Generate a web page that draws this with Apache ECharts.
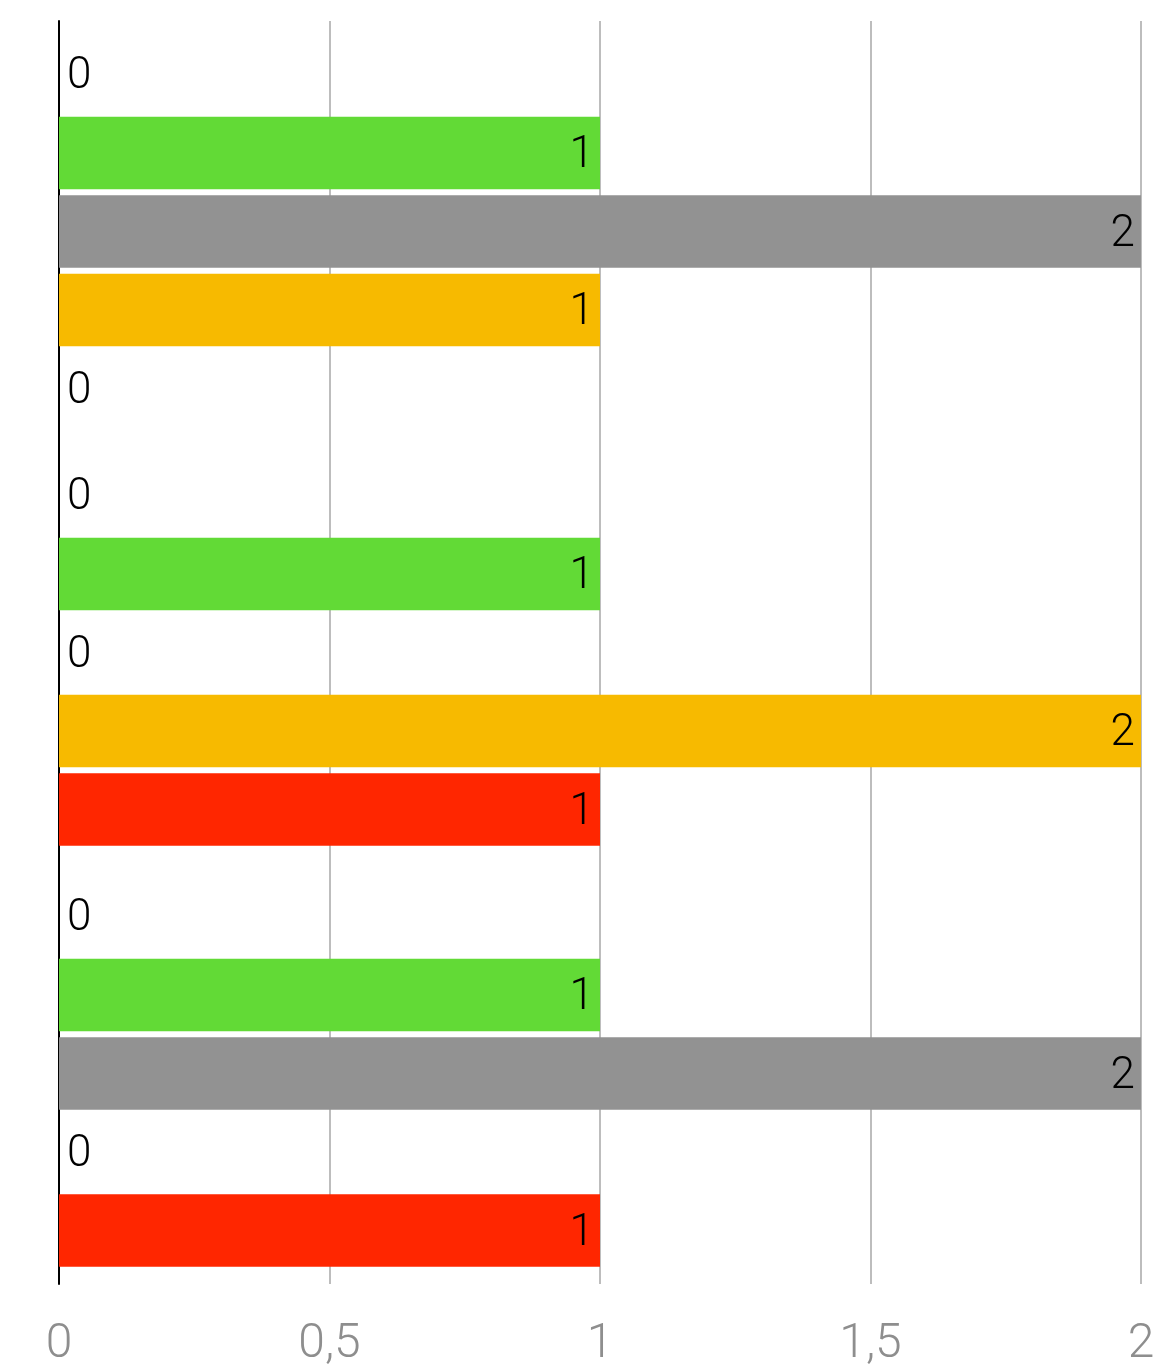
<!DOCTYPE html>
<html>
<head>
<meta charset="utf-8">
<script src="https://cdn.jsdelivr.net/npm/echarts@6/dist/echarts.min.js"></script>
<style>html,body{margin:0;padding:0;background:#fff}#c{width:1164px;height:1369px}</style>
</head>
<body>
<div id="c"></div>
<script>
const categories = ['Group 1', 'Group 2', 'Group 3'];
const seriesNames = ['Series 1', 'Series 2', 'Series 3', 'Series 4', 'Series 5'];
const seriesColors = ['#0076BA', '#62DA36', '#929292', '#F7BA00', '#FF2600'];
const series1 = [0, 0, 0];
const series2 = [1, 1, 1];
const series3 = [2, 0, 2];
const series4 = [1, 2, 0];
const series5 = [0, 1, 1];
const xTicks = { min: 0, max: 2, interval: 0.5 };

const allValues = [series1, series2, series3, series4, series5];
const FONT = 'Roboto';

const chart = echarts.init(document.getElementById('c'), null, { renderer: 'canvas' });
chart.setOption({
  animation: false,
  backgroundColor: '#ffffff',
  grid: { left: 59, right: 23, top: 21, bottom: 85, containLabel: false },
  xAxis: {
    type: 'value',
    min: xTicks.min, max: xTicks.max, interval: xTicks.interval,
    axisLine: { show: false },
    axisTick: { show: false },
    splitLine: { show: true, lineStyle: { color: '#bdbdbd', width: 2 } },
    axisLabel: {
      color: '#8e8e8e', fontSize: 48, fontFamily: FONT, fontWeight: 300, margin: 37,
      formatter: v => String(v).replace('.', ',')
    }
  },
  yAxis: {
    type: 'category',
    data: categories,
    inverse: true,
    axisLine: { show: true, lineStyle: { color: '#000', width: 2 } },
    axisTick: { show: false },
    axisLabel: { show: false },
    splitLine: { show: false }
  },
  series: allValues.map((vals, i) => ({
    name: seriesNames[i],
    type: 'bar',
    barWidth: 72.5,
    barGap: '8.3%',
    itemStyle: { color: seriesColors[i] },
    label: {
      show: true, color: '#000', fontSize: 44, fontFamily: FONT, fontWeight: 300, distance: 6,
      offset: [0, 3],
      position: 'insideRight'
    },
    data: vals.map(v => ({
      value: v,
      label: { position: v === 0 ? 'right' : 'insideRight', distance: v === 0 ? 8 : 6 }
    }))
  }))
});
</script>
</body>
</html>
